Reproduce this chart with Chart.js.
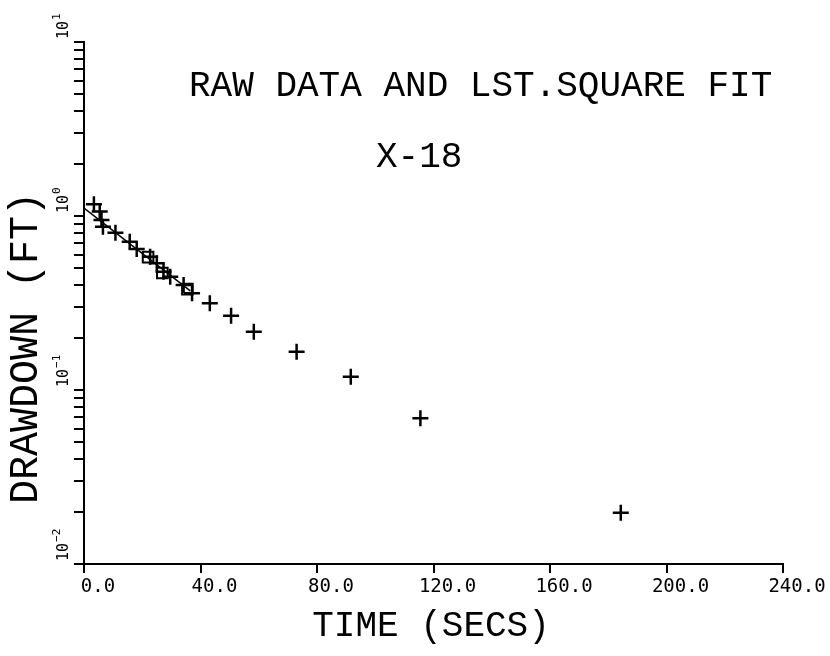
<!DOCTYPE html>
<html>
<head>
<meta charset="utf-8">
<script src="https://cdn.jsdelivr.net/npm/chart.js@4.4.1/dist/chart.umd.min.js"></script>
<style>
  body { margin: 0; background: #fff; }
</style>
</head>
<body>
<canvas id="drawdownChart" width="830" height="656"></canvas>
<script>
// raw data (time in secs, drawdown in ft)
const rawTime = [3.4, 5.4, 6.0, 6.5, 10.8, 15.7, 18.1, 22.7, 25.0, 27.3, 29.6, 34.2, 37.1, 43.2, 50.5, 58.3, 73.0, 91.6, 115.5, 184.3];
const rawDrawdown = [1.17, 1.06, 0.948, 0.868, 0.802, 0.711, 0.646, 0.584, 0.535, 0.478, 0.448, 0.401, 0.360, 0.315, 0.267, 0.216, 0.166, 0.119, 0.0688, 0.0197];

// least square fit line, drawn over the early times
const fitTime = [0, 36.5];
const fitDrawdown = [1.11, 0.371];

// the small boxes along the fit
const boxTime = [22.0, 26.9, 35.5];
const boxDrawdown = [0.58, 0.47, 0.38];

const xTicks = [0, 40, 80, 120, 160, 200, 240];
const yDecades = [-2, -1, 0, 1];

const FONT = "'DejaVu Sans Mono', monospace";
const BIG_FONT = "'Liberation Mono', 'DejaVu Sans Mono', monospace";

const toPoints = (xs, ys) => xs.map((x, i) => {
  return { x: x, y: ys[i] };
});

const textPlugin = {
  id: 'plotterText',
  afterDraw(chart) {
    const c = chart.ctx;
    const y = chart.scales.y;
    c.save();
    c.fillStyle = '#000';

    c.font = '36px ' + BIG_FONT;
    c.textAlign = 'left';
    c.textBaseline = 'middle';
    c.fillText('RAW DATA AND LST.SQUARE FIT', 189, 86);
    c.fillText('X-18', 376, 157);

    c.textAlign = 'center';
    c.fillText('TIME (SECS)', 431, 626);

    // vertical axis title
    c.save();
    c.translate(26, 348);
    c.rotate(-Math.PI / 2);
    c.font = '40px ' + BIG_FONT;
    c.fillText('DRAWDOWN (FT)', 0, 0);
    c.restore();

    // rotated decade labels
    yDecades.forEach((e) => {
      const py = y.getPixelForValue(Math.pow(10, e));
      c.save();
      c.translate(68, py - 3);
      c.rotate(-Math.PI / 2);
      c.textAlign = 'left';
      c.textBaseline = 'alphabetic';
      c.font = '15px ' + FONT;
      c.fillText('10', 0, 0);
      const w = c.measureText('10').width;
      c.font = '11px ' + FONT;
      c.fillText(e < 0 ? '\u2212' + (-e) : String(e), w + 1, -8);
      c.restore();
    });
    c.restore();
  }
};

const ctx = document.getElementById('drawdownChart').getContext('2d');

const myChart = new Chart(ctx, {
  type: 'scatter',
  data: {
    datasets: [{
      label: 'raw data',
      data: toPoints(rawTime, rawDrawdown),
      pointStyle: 'cross',
      pointRadius: 8,
      borderColor: '#000',
      borderWidth: 2.5
    }, {
      label: 'fit',
      type: 'line',
      data: toPoints(fitTime, fitDrawdown),
      borderColor: '#000',
      borderWidth: 1.5,
      pointRadius: 0,
      fill: false
    }, {
      label: 'boxes',
      data: toPoints(boxTime, boxDrawdown),
      pointStyle: 'rect',
      pointRadius: 7.5,
      borderColor: '#000',
      backgroundColor: 'rgba(0,0,0,0)',
      borderWidth: 2
    }]
  },
  options: {
    responsive: false,
    animation: false,
    layout: { padding: { top: 42, right: 47, left: 0, bottom: 0 } },
    plugins: {
      legend: { display: false },
      tooltip: { enabled: false }
    },
    scales: {
      x: {
        type: 'linear',
        min: 0,
        max: 240,
        afterBuildTicks: (s) => { s.ticks = xTicks.map((v) => ({ value: v })); },
        afterFit: (s) => { s.height = 92; },
        ticks: {
          callback: (v) => v.toFixed(1),
          color: '#000',
          font: { family: FONT, size: 19 },
          labelOffset: 14,
          padding: 3,
          maxRotation: 0,
          autoSkip: false
        },
        grid: { drawOnChartArea: false, tickLength: 9, color: '#000', lineWidth: 2 },
        border: { color: '#000', width: 2 }
      },
      y: {
        type: 'logarithmic',
        min: 0.01,
        max: 10,
        afterBuildTicks: (s) => {
          const t = [];
          yDecades.forEach((e) => {
            const m = e === yDecades[yDecades.length - 1] ? 1 : 9;
            for (let k = 1; k <= m; k++) t.push({ value: k * Math.pow(10, e) });
          });
          s.ticks = t;
        },
        afterFit: (s) => { s.width = 84; },
        ticks: { display: false },
        grid: { drawOnChartArea: false, tickLength: 10, color: '#000', lineWidth: 2 },
        border: { color: '#000', width: 2 }
      }
    }
  },
  plugins: [textPlugin]
});
</script>
</body>
</html>
